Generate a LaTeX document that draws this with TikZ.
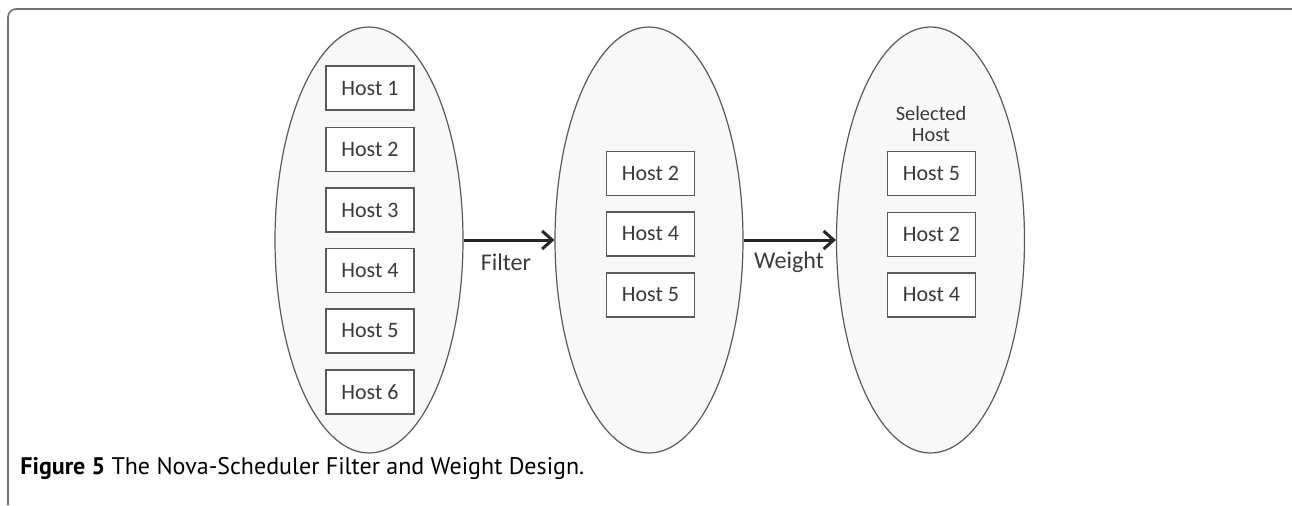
\documentclass[tikz,border=0pt]{standalone}
\usepackage{fontspec}
\setmainfont{Carlito}
\newfontfamily\capfont{PT Sans}
\usetikzlibrary{shapes.geometric,arrows.meta,shadows}
\definecolor{ellfill}{HTML}{F8F8F8}
\definecolor{edgegray}{HTML}{5A5A5A}
\definecolor{txtgray}{HTML}{3A3A3A}
\tikzset{
  group/.style={ellipse, draw=edgegray, line width=0.6pt, fill=ellfill, minimum width=94pt, minimum height=213pt, inner sep=0pt},
  hostbox/.style={draw=edgegray, line width=0.6pt, fill=white, minimum width=44pt, minimum height=22pt, inner sep=0pt, text=txtgray, font=\fontsize{11}{13}\selectfont, drop shadow={shadow xshift=0.4pt, shadow yshift=-0.4pt, opacity=0.35}},
  flowarrow/.style={line width=1.5pt, draw=black!85, -{Straight Barb[length=5pt, width=9pt, line width=1.5pt]}},
  flowlabel/.style={text=txtgray, font=\fontsize{12}{14}\selectfont, inner sep=0pt}
}
\begin{document}
\begin{tikzpicture}[x=0.5pt,y=-0.5pt]
\useasboundingbox (0,0) rectangle (1292,505);
% frame
\draw[draw=black!55, line width=0.8pt] (8,505) -- (8,17) arc[start angle=180, end angle=90, radius=4pt] -- (1292,9);
% groups
\node[group] (g1) at (369,240) {};
\node[group] (g2) at (649,240) {};
\node[group] (g3) at (930.5,240) {};
% first group hosts
\node[hostbox] (a1) at (370,88) {Host 1};
\node[hostbox] (a2) at (370,149.5) {Host 2};
\node[hostbox] (a3) at (370,210) {Host 3};
\node[hostbox] (a4) at (370,270.5) {Host 4};
\node[hostbox] (a5) at (370,331) {Host 5};
\node[hostbox] (a6) at (370,392) {Host 6};
% second group hosts
\node[hostbox] (b2) at (650.5,173.5) {Host 2};
\node[hostbox] (b4) at (650.5,234) {Host 4};
\node[hostbox] (b5) at (650.5,295) {Host 5};
% third group
\node[text=txtgray, font=\fontsize{10.2}{10.3}\selectfont, align=center, inner sep=0pt] (sel) at (931,124) {Selected\\Host};
\node[hostbox] (c5) at (931.5,173.5) {Host 5};
\node[hostbox] (c2) at (931.5,234.5) {Host 2};
\node[hostbox] (c4) at (931.5,295) {Host 4};
% arrows
\draw[flowarrow] (g1.east) -- (g2.west);
\draw[flowarrow] (g2.east) -- (g3.west);
\node[flowlabel] (lf) at (506,262) {Filter};
\node[flowlabel] (lw) at (789,262) {Weight};
% caption
\node[anchor=base west, inner sep=0pt, font=\capfont\fontsize{12}{14}\selectfont] (cap) at (20,474) {\textbf{Figure 5} The Nova-Scheduler Filter and Weight Design.};
\end{tikzpicture}
\end{document}
